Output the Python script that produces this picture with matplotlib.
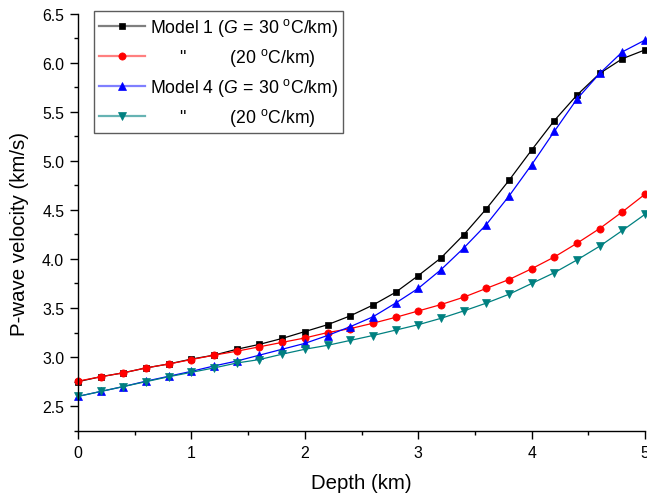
import matplotlib
matplotlib.use("Agg")
import matplotlib.pyplot as plt
from matplotlib.ticker import MultipleLocator
from matplotlib.lines import Line2D
from matplotlib.legend_handler import HandlerTuple

plt.rcParams['font.family'] = ['Liberation Sans', 'DejaVu Sans']
plt.rcParams['mathtext.fontset'] = 'custom'
plt.rcParams['mathtext.rm'] = 'Liberation Sans'
plt.rcParams['mathtext.it'] = 'Liberation Sans:italic'

depth = [0.0, 0.2, 0.4, 0.6, 0.8, 1.0, 1.2, 1.4, 1.6, 1.8, 2.0, 2.2, 2.4,
         2.6, 2.8, 3.0, 3.2, 3.4, 3.6, 3.8, 4.0, 4.2, 4.4, 4.6, 4.8, 5.0]

model1_g30 = [2.75, 2.80, 2.84, 2.89, 2.93, 2.98, 3.02, 3.08, 3.13, 3.19, 3.26, 3.33, 3.42,
              3.53, 3.66, 3.83, 4.01, 4.245, 4.51, 4.80, 5.11, 5.41, 5.67, 5.89, 6.04, 6.13]
model1_g20 = [2.755, 2.80, 2.84, 2.89, 2.93, 2.975, 3.02, 3.06, 3.105, 3.15, 3.195, 3.25, 3.29,
              3.345, 3.405, 3.47, 3.535, 3.61, 3.70, 3.79, 3.90, 4.02, 4.16, 4.31, 4.48, 4.66]
model4_g30 = [2.60, 2.65, 2.70, 2.755, 2.805, 2.855, 2.91, 2.96, 3.02, 3.08, 3.14, 3.22, 3.31,
              3.41, 3.55, 3.70, 3.89, 4.11, 4.35, 4.64, 4.96, 5.30, 5.63, 5.89, 6.11, 6.23]
model4_g20 = [2.60, 2.65, 2.70, 2.75, 2.80, 2.845, 2.89, 2.94, 2.975, 3.03, 3.08, 3.12, 3.17,
              3.22, 3.275, 3.33, 3.395, 3.47, 3.55, 3.64, 3.75, 3.86, 3.99, 4.13, 4.29, 4.455]

labels = [r'Model 1 ($G\,=\,30$ $^{\mathrm{o}}$C/km)',
          r'      "         (20 $^{\mathrm{o}}$C/km)',
          r'Model 4 ($G\,=\,30$ $^{\mathrm{o}}$C/km)',
          r'      "         (20 $^{\mathrm{o}}$C/km)']

y_ticks = [2.5, 3.0, 3.5, 4.0, 4.5, 5.0, 5.5, 6.0, 6.5]
y_ticklabels = ['2.5', '3.0', '3.5', '4.0', '4.5', '5.0', '5.5', '6.0', '6.5']
x_ticks = [0, 1, 2, 3, 4, 5]
x_ticklabels = ['0', '1', '2', '3', '4', '5']

fig = plt.figure(figsize=(6.47, 5.02), dpi=100)
ax = fig.add_axes([0.1206, 0.140, 0.997 - 0.1206, 0.971 - 0.140])

series = [(model1_g30, 'black', 's', 4.6, '#7f7f7f'),
          (model1_g20, 'red', 'o', 5.2, '#ff7f7f'),
          (model4_g30, 'blue', '^', 5.6, '#7f7fff'),
          (model4_g20, '#008080', 'v', 5.6, '#66b3b3')]
handles = []
for vals, col, mk, ms, light in series:
    ax.plot(depth, vals, color=col, marker=mk, markersize=ms, linewidth=0.9,
            markeredgewidth=0.5, clip_on=False)
    handles.append((Line2D([], [], color=light, linewidth=1.6),
                    Line2D([], [], color=col, marker=mk, markersize=ms,
                           markeredgewidth=0.5, linestyle='none')))

ax.set_xlim(0, 5)
ax.set_ylim(2.25, 6.5)
ax.xaxis.set_minor_locator(MultipleLocator(0.5))
ax.yaxis.set_minor_locator(MultipleLocator(0.25))
ax.set_yticks(y_ticks)
ax.set_yticklabels(y_ticklabels)
ax.set_xticks(x_ticks)
ax.set_xticklabels(x_ticklabels)

for s in ['top', 'right']:
    ax.spines[s].set_visible(False)
for s in ['left', 'bottom']:
    ax.spines[s].set_linewidth(1.0)
ax.tick_params(axis='both', which='major', direction='out', length=6, width=1.0,
               labelsize=11.4)
ax.tick_params(axis='x', which='major', pad=4.5)
ax.tick_params(axis='y', which='major', pad=4)
ax.tick_params(which='minor', direction='out', length=3, width=1.0)

fig.text(361.5 / 647, 1 - 484 / 502, 'Depth (km)', fontsize=14.7,
         ha='center', va='center')
fig.text(20 / 647, 1 - 234.5 / 502, 'P-wave velocity (km/s)', fontsize=14.7,
         ha='center', va='center', rotation=90)

leg = ax.legend(handles, labels, loc='upper left',
                bbox_to_anchor=((94 - 78) / 567, (431.7 - 12) / 417.2),
                borderaxespad=0, fontsize=12.7, frameon=True, fancybox=False,
                edgecolor='#333333', handlelength=2.6, handletextpad=0.25,
                borderpad=0.3, labelspacing=0.45,
                handler_map={tuple: HandlerTuple(ndivide=1)})
leg.get_frame().set_linewidth(1.0)

fig.savefig('out.png', dpi=100)
